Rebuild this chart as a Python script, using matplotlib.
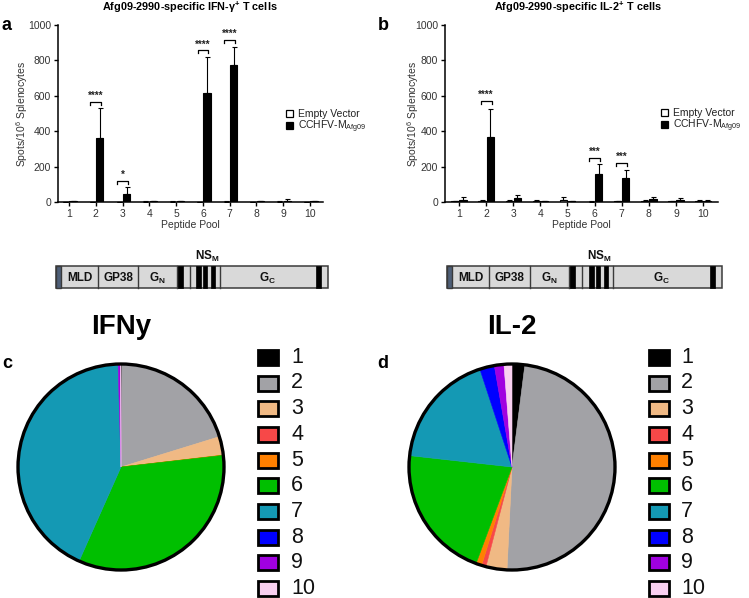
import matplotlib
matplotlib.use('Agg')
import matplotlib.pyplot as plt
from matplotlib.patches import Rectangle, Circle
import numpy as np

plt.rcParams['font.family'] = ['Liberation Sans', 'DejaVu Sans']
plt.rcParams['mathtext.fontset'] = 'custom'
plt.rcParams['mathtext.rm'] = 'Liberation Sans'
plt.rcParams['mathtext.it'] = 'Liberation Sans:italic'
plt.rcParams['mathtext.bf'] = 'Liberation Sans:bold'

# ---------------- data ----------------
pools = [1, 2, 3, 4, 5, 6, 7, 8, 9, 10]

# IFN-gamma ELISpot (spots / 10^6 splenocytes), mean and upper SD
ev_ifn = [1, 1, 1, 2, 2, 1, 2, 1, 2, 1]
ev_ifn_err = [1, 1, 1, 1, 2, 1, 2, 1, 2, 1]
cc_ifn = [5, 361, 48, 3, 3, 613, 774, 3, 8, 3]
cc_ifn_err = [2, 168, 37, 1, 1, 204, 104, 1, 10, 1]

# IL-2 ELISpot
ev_il2 = [4, 5, 5, 4, 10, 2, 3, 5, 3, 6]
ev_il2_err = [4, 6, 6, 6, 18, 1, 2, 5, 2, 8]
cc_il2 = [12, 369, 20, 4, 4, 160, 135, 15, 10, 7]
cc_il2_err = [18, 158, 20, 2, 2, 55, 48, 15, 12, 5]

# significance brackets
sig_ifn_pools = [2, 3, 6, 7]
sig_ifn_y = [566, 120, 858, 918]
sig_ifn_lab = ['****', '*', '****', '****']
sig_il2_pools = [2, 6, 7]
sig_il2_y = [572, 250, 222]
sig_il2_lab = ['****', '***', '***']

# pie fractions (% of total response per pool)
pie_ifn = [0.15, 20.1, 2.9, 0.0, 0.05, 33.5, 42.9, 0.0, 0.4, 0.05]
pie_il2 = [2.0, 48.8, 3.3, 0.7, 0.9, 21.1, 18.2, 2.3, 1.5, 1.25]
pie_labels = ['1', '2', '3', '4', '5', '6', '7', '8', '9', '10']
pie_colors = ['#000000', '#a2a2a6', '#f0b984', '#f74848', '#ff8000',
              '#00bf00', '#1499b4', '#0000ff', '#a000e0', '#f9d0f0']

yticks = [0, 200, 400, 600, 800, 1000]

# genome schematic (relative lengths)
genome_len = 272
genome_strip = (0, 5)
genome_dividers = [42, 82, 121, 134, 164]
genome_black = [(121, 127), (140, 145), (147, 151), (155, 159), (260, 265)]
genome_labels = [('MLD', 23.5), ('GP38', 62), ('G$_\\mathbf{N}$', 101), ('G$_\\mathbf{C}$', 212)]
genome_nsm_x = 151

W, H = 749, 598
fig = plt.figure(figsize=(W / 100, H / 100), dpi=100)


def box(l, t, r, b):
    return [l / W, 1 - b / H, (r - l) / W, (b - t) / H]


def ftext(x, y, s, **kw):
    fig.text(x / W, 1 - y / H, s, **kw)


def frect(x, y, w, h, **kw):
    fig.add_artist(Rectangle((x / W, 1 - (y + h) / H), w / W, h / H,
                             transform=fig.transFigure, **kw))


def bar_panel(l, t, r, b, xlim, ev, ev_err, cc, cc_err, sp, sy, sl,
              title, title_x, letter, letter_x, ylab_x, leg_x, leg_y):
    ax = fig.add_axes(box(l, t, r, b))
    x = np.array(pools, dtype=float)
    off, w = 0.15, 0.27
    ax.errorbar(x - off, ev, yerr=[np.zeros(10), ev_err], fmt='none', ecolor='black',
                elinewidth=0.8, capsize=1.8, capthick=0.8, zorder=3)
    ax.errorbar(x + off, cc, yerr=[np.zeros(10), cc_err], fmt='none', ecolor='black',
                elinewidth=0.8, capsize=1.8, capthick=0.8, zorder=3)
    ax.bar(x - off, ev, w, color='white', edgecolor='black', linewidth=0.8, zorder=2)
    ax.bar(x + off, cc, w, color='black', edgecolor='black', linewidth=0.8, zorder=2)
    for p, yv, lab in zip(sp, sy, sl):
        ax.plot([p - 0.2, p - 0.2, p + 0.2, p + 0.2], [yv - 18, yv, yv, yv - 18],
                color='black', lw=0.9, clip_on=False, zorder=4)
        ax.text(p, yv + 4, lab, ha='center', va='bottom', fontsize=7,
                fontweight='bold', color='#222222')
    ax.set_xlim(*xlim)
    ax.set_ylim(0, 1000)
    ax.set_xticks(pools)
    ax.set_yticks(yticks)
    for s in ['top', 'right']:
        ax.spines[s].set_visible(False)
    for s in ['left', 'bottom']:
        ax.spines[s].set_linewidth(1.1)
    ax.tick_params(direction='out', length=3, width=1, labelsize=7.5,
                   labelcolor='#333333', pad=2)
    ftext(title_x, 7, title, ha='center', va='center', fontsize=7.8, fontweight='bold')
    ftext(letter_x, 25, letter, ha='left', va='center', fontsize=13, fontweight='bold')
    ftext(ylab_x, (t + b) / 2, 'Spots/10$^6$ Splenocytes', rotation=90,
          ha='center', va='center', fontsize=7.5, color='#333333')
    ftext((l + r) / 2, 225, 'Peptide Pool', ha='center', va='center',
          fontsize=7.5, color='#333333')
    # legend
    frect(leg_x, leg_y - 3.5, 6.5, 6.5, facecolor='white', edgecolor='black', lw=0.9)
    frect(leg_x, leg_y + 12 - 3.5, 6.5, 6.5, facecolor='black', edgecolor='black', lw=0.9)
    ftext(leg_x + 12, leg_y, 'Empty Vector', ha='left', va='center', fontsize=7.5,
          color='#222222')
    ftext(leg_x + 12, leg_y + 12.5, 'CCHFV-M$_{\\mathrm{Afg09}}$', ha='left', va='center',
          fontsize=7.5, color='#222222')
    return ax


bar_panel(58, 25, 323, 202, (0.589, 10.485), ev_ifn, ev_ifn_err, cc_ifn, cc_ifn_err,
          sig_ifn_pools, sig_ifn_y, sig_ifn_lab,
          'Afg09-2990-specific IFN-γ$^{\\mathbf{+}}$ T cells', 190, 'a', 2, 22, 286, 114)
bar_panel(445, 25, 718, 202, (0.483, 10.55), ev_il2, ev_il2_err, cc_il2, cc_il2_err,
          sig_il2_pools, sig_il2_y, sig_il2_lab,
          'Afg09-2990-specific IL-2$^{\\mathbf{+}}$ T cells', 578, 'b', 378, 413, 661, 113)


def genome(l, r, t=266, b=288):
    ax = fig.add_axes(box(l, t, r, b))
    ax.set_xlim(0, genome_len)
    ax.set_ylim(0, 1)
    ax.axis('off')
    ec = '#3a3a3a'
    ax.add_patch(Rectangle((0, 0), genome_len, 1, facecolor='#d9d9d9', edgecolor=ec,
                           lw=1.1, clip_on=False))
    ax.add_patch(Rectangle((genome_strip[0], 0), genome_strip[1] - genome_strip[0], 1,
                           facecolor='#4e5f78', edgecolor=ec, lw=1.0, clip_on=False))
    for d in genome_dividers:
        ax.plot([d, d], [0, 1], color=ec, lw=1.0, clip_on=False)
    for a, bb in genome_black:
        ax.add_patch(Rectangle((a, 0), bb - a, 1, facecolor='black', edgecolor='black',
                               lw=0.5, clip_on=False))
    for lab, xx in genome_labels:
        ax.text(xx, 0.45, lab, ha='center', va='center', fontsize=8.5,
                fontweight='bold', color='#111111')
    ax.text(genome_nsm_x, 1.45, 'NS$_\\mathbf{M}$', ha='center', va='center',
            fontsize=8.5, fontweight='bold', color='#111111')


genome(56, 328)
genome(447, 722)


def pie_panel(cx, cy, r, vals, title, letter, letter_x, sq_x, txt_x):
    ax = fig.add_axes(box(cx - r, cy - r, cx + r, cy + r))
    wedges, _ = ax.pie(vals, colors=pie_colors, startangle=90, counterclock=False,
                       wedgeprops=dict(linewidth=0))
    for wd, c, v in zip(wedges, pie_colors, vals):
        if v > 0:
            wd.set_edgecolor(c)
            wd.set_linewidth(0.4)
    ax.add_patch(Circle((0, 0), 1, fill=False, lw=2.4, edgecolor='black', clip_on=False))
    ax.set_xlim(-1, 1)
    ax.set_ylim(-1, 1)
    ax.set_aspect('equal')
    ax.axis('off')
    ftext(cx, 327, title, ha='center', va='center', fontsize=20, fontweight='bold')
    ftext(letter_x, 363, letter, ha='left', va='center', fontsize=13, fontweight='bold')
    for i, (lab, c) in enumerate(zip(pie_labels, pie_colors)):
        yy = 357.3 + i * 25.7
        frect(sq_x, yy - 7.5, 20, 15, facecolor=c, edgecolor='black', lw=2)
        ftext(txt_x, yy, lab, ha='left', va='center', fontsize=15.5, color='#111111')


pie_panel(121, 467, 103, pie_ifn, 'IFNy', 'c', 2, 258, 291)
pie_panel(512, 467, 103, pie_il2, 'IL-2', 'd', 377, 649, 681)

fig.savefig('out.png', dpi=100)
